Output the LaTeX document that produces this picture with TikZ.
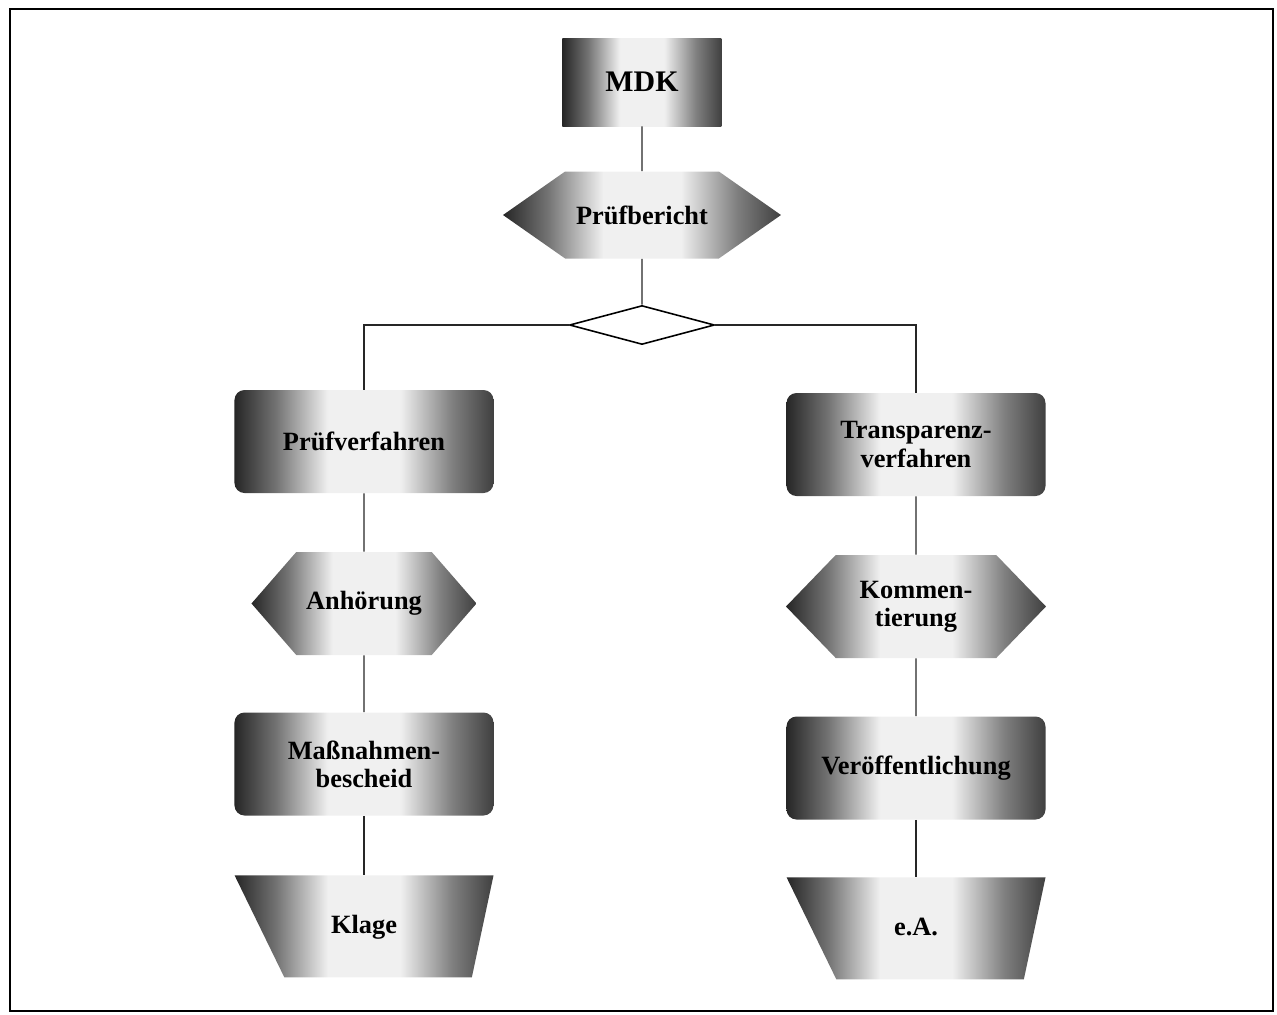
\documentclass[tikz,border=0pt]{standalone}
\usepackage{fontspec}
\setmainfont{Liberation Serif}
\usetikzlibrary{shapes.geometric,shapes.symbols}
\pgfdeclarehorizontalshading{grau}{100bp}{color(0bp)=(black!85); color(25bp)=(black!85); color(33bp)=(black!55); color(43bp)=(black!6); color(57bp)=(black!6); color(67bp)=(black!50); color(75bp)=(black!75); color(100bp)=(black!75)}
\tikzstyle{box}=[shape=rectangle, rounded corners=0.2cm, shading=grau, minimum width=5.18cm, minimum height=2.06cm, inner sep=0pt, align=center, font=\fontsize{15}{16}\selectfont\bfseries]
\tikzstyle{sig}=[shape=signal, signal to=east and west, signal pointer angle=95, shading=grau, minimum width=4.5cm, minimum height=2.06cm, inner sep=0pt, align=center, font=\fontsize{15}{16}\selectfont\bfseries]
\tikzstyle{trap}=[shape=trapezium, trapezium left angle=78, trapezium right angle=64, shape border rotate=180, shading=grau, minimum width=0pt, minimum height=0pt, text width=3.5cm, text height=0.4cm, text depth=0.1cm, inner xsep=0.125cm, inner ysep=0.77cm, align=center, execute at end node=\hspace*{0.56cm}, font=\fontsize{15}{16}\selectfont\bfseries]
\tikzstyle{ent}=[shape=diamond, draw=black, line width=0.9pt, fill=white, minimum width=2.9cm, minimum height=0.78cm, inner sep=0pt]
\tikzstyle{lin}=[draw=black!85, line width=0.8pt]

\begin{document}
\begin{tikzpicture}
		\useasboundingbox (-12.84, 1.64) rectangle (12.70, -18.64);
		\draw [line width=1.4pt] (-12.64, 1.46) rectangle (12.62, -18.58);

		\node [style=box, rounded corners=0pt, minimum width=3.18cm, minimum height=1.76cm, font=\fontsize{17}{19}\selectfont\bfseries] (1) at (0, 0) {MDK};
		\node [style=sig, signal pointer angle=70, minimum width=5.56cm, minimum height=1.74cm] (2) at (0, -2.66) {Prüfbericht};
		\node [style=ent] (3) at (0, -4.86) {};

		\node [style=box] (10) at (-5.56, -7.19) {Prüfverfahren};
		\node [style=sig, signal pointer angle=98] (11) at (-5.56, -10.43) {Anhörung};
		\node [style=box] (12) at (-5.56, -13.64) {Maßnahmen-\\bescheid};
		\node [style=trap, anchor=bottom side] (13) at (-5.56, -15.86) {Klage};

		\node [style=box] (20) at (5.48, -7.25) {Transparenz-\\verfahren};
		\node [style=sig, minimum width=5.2cm, signal pointer angle=92] (21) at (5.48, -10.49) {Kommen-\\tierung};
		\node [style=box] (22) at (5.48, -13.72) {Veröffentlichung};
		\node [style=trap, anchor=bottom side] (23) at (5.48, -15.90) {e.A.};

		\draw [style=lin] (1) to (2);
		\draw [style=lin] (2) to (3);
		\draw [style=lin] (3.west) -| (10);
		\draw [style=lin] (3.east) -| (20);

		\draw [style=lin] (10) to (11);
		\draw [style=lin] (11) to (12);
		\draw [style=lin] (12) to (13.bottom side);

		\draw [style=lin] (20) to (21);
		\draw [style=lin] (21) to (22);
		\draw [style=lin] (22) to (23.bottom side);
	\end{tikzpicture}
\end{document}
